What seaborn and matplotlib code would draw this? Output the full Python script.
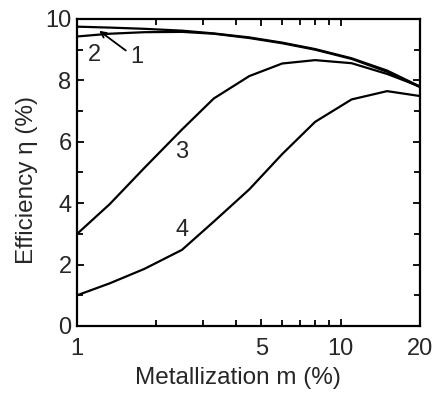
import numpy as np
import pandas as pd
import matplotlib
matplotlib.use("Agg")
import matplotlib.pyplot as plt
import seaborn as sns
from matplotlib.ticker import FixedLocator, NullFormatter, FuncFormatter

# metallization (%) and efficiency (%) of the four curves
m = [1, 1.33, 1.8, 2.5, 3.3, 4.5, 6, 8, 11, 15, 20]
eta_1 = [9.75, 9.72, 9.68, 9.62, 9.53, 9.40, 9.23, 9.02, 8.72, 8.32, 7.80]
eta_2 = [9.43, 9.52, 9.57, 9.58, 9.52, 9.38, 9.21, 9.00, 8.70, 8.28, 7.78]
eta_3 = [3.00, 3.97, 5.15, 6.40, 7.41, 8.14, 8.55, 8.66, 8.56, 8.21, 7.80]
eta_4 = [1.00, 1.39, 1.86, 2.48, 3.40, 4.45, 5.60, 6.65, 7.38, 7.65, 7.49]

x_major = [1, 5, 10, 20]
x_minor = [2, 3, 4, 6, 7, 8, 9]

df = pd.DataFrame({
    "m": m * 4,
    "eta": eta_1 + eta_2 + eta_3 + eta_4,
    "curve": ["1"] * len(m) + ["2"] * len(m) + ["3"] * len(m) + ["4"] * len(m),
})

sns.set_style("ticks")
plt.rcParams["font.family"] = ["Liberation Sans", "DejaVu Sans"]

fig = plt.figure(figsize=(4.38, 3.94), dpi=100)
ax = fig.add_axes([0.176, 0.1726, 0.783, 0.7792])

sns.lineplot(data=df, x="m", y="eta", units="curve", estimator=None,
             color="black", linewidth=1.6, ax=ax, legend=False)

ax.set_xscale("log")
ax.set_xlim(1, 20)
ax.set_ylim(0, 10)

ax.xaxis.set_major_locator(FixedLocator(x_major))
ax.xaxis.set_major_formatter(FuncFormatter(lambda v, p: f"{v:g}"))
ax.xaxis.set_minor_locator(FixedLocator(x_minor))
ax.xaxis.set_minor_formatter(NullFormatter())
ax.yaxis.set_major_locator(FixedLocator([0, 2, 4, 6, 8, 10]))
ax.yaxis.set_minor_locator(FixedLocator([1, 3, 5, 7, 9]))

ax.tick_params(which="both", direction="in", top=True, right=True,
               width=1.3, labelsize=17, color="black")
ax.tick_params(axis="x", pad=9)
ax.tick_params(axis="y", pad=4)
ax.tick_params(which="major", length=5)
ax.tick_params(which="minor", length=4)
for s in ax.spines.values():
    s.set_linewidth(1.6)
    s.set_color("black")

ax.set_xlabel("Metallization m (%)", fontsize=17.5)
ax.set_ylabel("Efficiency \u03b7 (%)", fontsize=17.5)
ax.xaxis.label.set_va("center")
ax.yaxis.label.set_va("center")
ax.xaxis.set_label_coords(0.468, -0.169)
ax.yaxis.set_label_coords(-0.146, 0.475)

ax.text(1.16, 8.83, "2", fontsize=17, ha="center", va="center")
ax.text(1.69, 8.76, "1", fontsize=17, ha="center", va="center")
ax.annotate("", xy=(1.19, 9.67), xytext=(1.56, 8.92),
            arrowprops=dict(arrowstyle="->", color="black", lw=1.3))
ax.text(2.5, 5.67, "3", fontsize=17, ha="center", va="center")
ax.text(2.5, 3.13, "4", fontsize=17, ha="center", va="center")

fig.savefig("out.png", dpi=100)
